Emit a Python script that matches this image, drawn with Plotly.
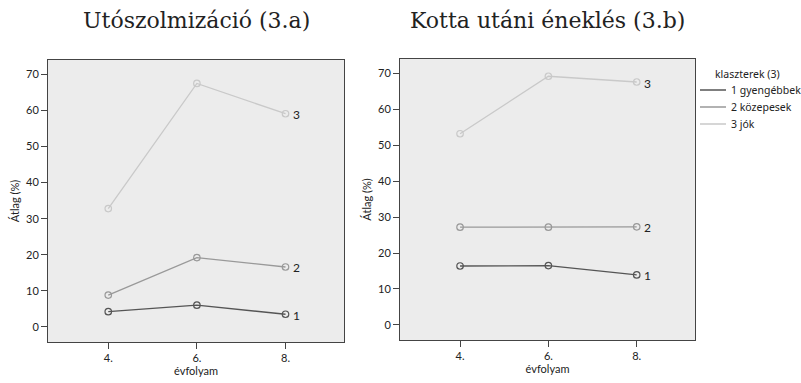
import plotly.graph_objects as go

grades = [4, 6, 8]
grade_labels = ["4.", "6.", "8."]
series_names = ["1 gyengébbek", "2 közepesek", "3 jók"]
series_tags = ["1", "2", "3"]
colors = ["#555555", "#999999", "#c9c9c9"]
legend_title = "klaszterek (3)"

left_title = "Utószolmizáció (3.a)"
left_vals = [
    [4.2, 6.0, 3.5],
    [8.8, 19.2, 16.6],
    [32.8, 67.5, 59.1],
]
right_title = "Kotta utáni éneklés (3.b)"
right_vals = [
    [16.4, 16.5, 13.9],
    [27.2, 27.2, 27.3],
    [53.2, 69.2, 67.6],
]

ytick_vals = [0, 10, 20, 30, 40, 50, 60, 70]

SANS = "Lato, sans-serif"
LEG = "Noto Sans, sans-serif"
SERIF = "DejaVu Serif, serif"
TXT = "#222222"

fig = go.Figure()

for panel, vals in enumerate([left_vals, right_vals]):
    xa = "x" if panel == 0 else "x2"
    ya = "y" if panel == 0 else "y2"
    for i, v in enumerate(vals):
        fig.add_trace(go.Scatter(
            x=grades, y=v, xaxis=xa, yaxis=ya,
            mode="lines+markers",
            name=series_names[i],
            showlegend=False,
            line=dict(color=colors[i], width=1.3),
            marker=dict(symbol="circle-open", size=6.5, color=colors[i],
                        line=dict(width=1.2, color=colors[i])),
            hoverinfo="skip",
        ))
        fig.add_annotation(
            x=grades[-1], y=v[-1], xref=xa, yref=ya,
            text=series_tags[i], showarrow=False,
            xanchor="left", xshift=5, yshift=-1,
            font=dict(family=SANS, size=12, color=TXT),
        )

axis_common = dict(
    showgrid=False, zeroline=False, showline=True, mirror=True,
    linecolor="#444444", linewidth=1,
    ticks="outside", ticklen=6, tickcolor="#444444", tickwidth=1,
    tickfont=dict(family=SANS, size=11, color=TXT),
)

W, H = 801, 383
xdomL = [48 / W, 344 / W]
xdomR = [400 / W, 695 / W]
ydomL = [1 - 342 / H, 1 - 60 / H]
ydomR = [1 - 340 / H, 1 - 59 / H]

xcommon = dict(axis_common, tickvals=grades, ticktext=grade_labels, range=[2.64, 9.32],
               title=dict(text="évfolyam", font=dict(family=SANS, size=11, color=TXT), standoff=2))
ycommon = dict(axis_common, tickvals=ytick_vals, range=[-4.2, 74.0],
               title=dict(text="Átlag (%)", font=dict(family=SANS, size=11, color=TXT), standoff=4))

fig.update_layout(
    width=W, height=H,
    margin=dict(l=0, r=0, t=0, b=0),
    paper_bgcolor="white", plot_bgcolor="#ececec",
    xaxis=dict(xcommon, domain=xdomL, anchor="y"),
    yaxis=dict(ycommon, domain=ydomL, anchor="x"),
    xaxis2=dict(xcommon, domain=xdomR, anchor="y2"),
    yaxis2=dict(ycommon, domain=ydomR, anchor="x2"),
    showlegend=False,
)

# legend drawn by hand (short line keys, as in the reference)
fig.add_annotation(x=713 / W, y=1 - 74 / H, xref="paper", yref="paper",
                   text=legend_title, showarrow=False, xanchor="left", yanchor="middle",
                   font=dict(family=LEG, size=10.5, color=TXT))
row_y = [90, 107, 124]
for i, name in enumerate(series_names):
    yy = 1 - row_y[i] / H
    fig.add_shape(type="line", xref="paper", yref="paper",
                  x0=700 / W, x1=726 / W, y0=yy, y1=yy,
                  line=dict(color=colors[i], width=1.5))
    fig.add_annotation(x=729 / W, y=yy, xref="paper", yref="paper",
                       text=name, showarrow=False, xanchor="left", yanchor="middle",
                       font=dict(family=LEG, size=10.5, color=TXT))

fig.add_annotation(x=(xdomL[0] + xdomL[1]) / 2, y=1 - 20 / H, xref="paper", yref="paper",
                   text=left_title, showarrow=False, xanchor="center", yanchor="middle",
                   font=dict(family=SERIF, size=22, color=TXT))
fig.add_annotation(x=(xdomR[0] + xdomR[1]) / 2, y=1 - 20 / H, xref="paper", yref="paper",
                   text=right_title, showarrow=False, xanchor="center", yanchor="middle",
                   font=dict(family=SERIF, size=22, color=TXT))

fig.write_html("out.html", config={"displayModeBar": False},
               post_script="document.body.style.margin='0px';document.body.style.overflow='hidden';")
